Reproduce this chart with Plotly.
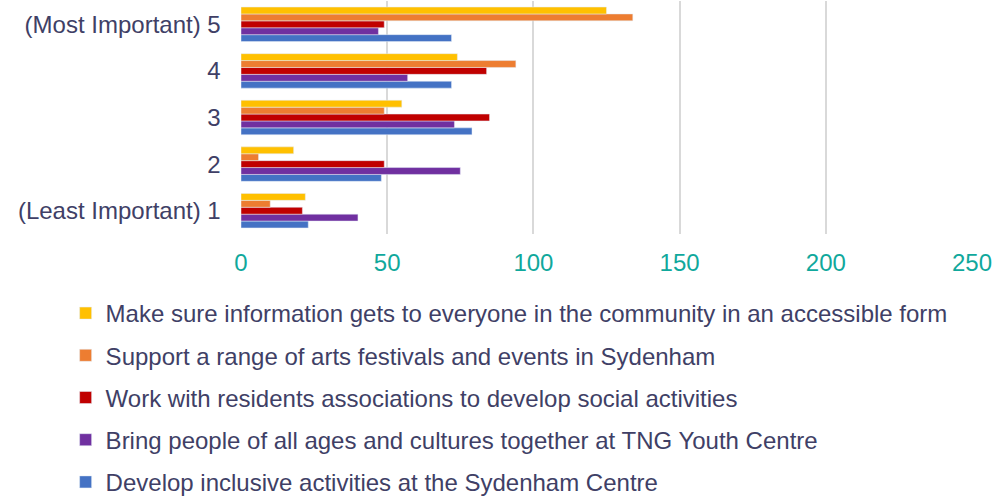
import plotly.graph_objects as go

categories = ["(Least Important) 1", "2", "3", "4", "(Most Important) 5"]
series_names = [
    "Make sure information gets to everyone in the community in an accessible form",
    "Support a range of arts festivals and events in Sydenham",
    "Work with residents associations to develop social activities",
    "Bring people of all ages and cultures together at TNG Youth Centre",
    "Develop inclusive activities at the Sydenham Centre",
]
# values ordered as categories (1..5)
info_access = [22, 18, 55, 74, 125]
arts_festivals = [10, 6, 49, 94, 134]
residents_assoc = [21, 49, 85, 84, 49]
tng_youth = [40, 75, 73, 57, 47]
sydenham_centre = [23, 48, 79, 72, 72]
x_ticks = [0, 50, 100, 150, 200, 250]

colors = ["#FFC000", "#ED7D31", "#C00000", "#7030A0", "#4472C4"]
values = [info_access, arts_festivals, residents_assoc, tng_youth, sydenham_centre]

fig = go.Figure()
# add in reverse so the first series sits at the top of each group
for i in reversed(range(5)):
    fig.add_trace(go.Bar(
        y=categories, x=values[i], name=series_names[i], orientation="h",
        marker=dict(color=colors[i]), legendgroup=str(i), legendrank=i + 1,
    ))

text_color = "#403F66"
W, H = 992, 500
L, R, T, B = 240.5, 20, 1, 266
pw, ph = W - L - R, H - T - B
fig.update_layout(
    width=W, height=H,
    margin=dict(l=L, r=R, t=T, b=B, autoexpand=False, pad=0),
    paper_bgcolor="white", plot_bgcolor="white",
    barmode="group", bargap=0.26, bargroupgap=0,
    font=dict(family="Liberation Sans, Arial, sans-serif", size=24, color=text_color),
    xaxis=dict(range=[0, 250], tickvals=x_ticks, showgrid=True, gridcolor="#D9D9D9",
               gridwidth=2, zeroline=False, showline=False, ticklabeloverflow="allow",
               tickfont=dict(color="#10A89C", size=24), ticks="", ticklabelstandoff=12),
    yaxis=dict(showgrid=False, zeroline=False, showline=False, ticks="",
               categoryorder="array", categoryarray=categories,
               ticklabelstandoff=6,
               tickfont=dict(color=text_color, size=24), ticksuffix="  "),
    legend=dict(orientation="v", traceorder="grouped", tracegroupgap=8,
                x=(65 - L) / pw, y=1 - (291 - T) / ph,
                xanchor="left", yanchor="top", bgcolor="rgba(0,0,0,0)",
                font=dict(size=24, color=text_color)),
    showlegend=True,
)

fig.write_html("out.html", config={"displayModeBar": False},
               post_script="document.body.style.margin='0';")
